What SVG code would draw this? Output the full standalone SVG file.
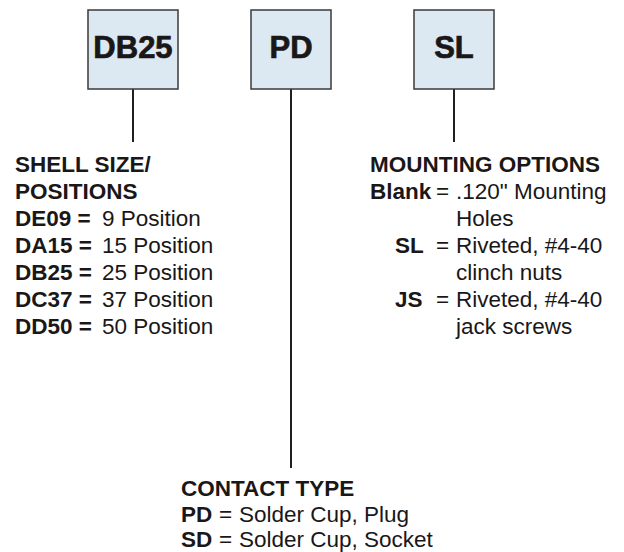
<svg xmlns="http://www.w3.org/2000/svg" width="624" height="552" viewBox="0 0 624 552">
<style>
text{font-family:"Liberation Sans",Arial,Helvetica,sans-serif;fill:#1a1718;font-size:22.5px}
.b{font-weight:700}
.box{fill:#dce9f3;stroke:#3a3a3a;stroke-width:1.5}
.lbl{font-size:31px;font-weight:700;text-anchor:middle;stroke:#1a1718;stroke-width:0.7}
.ln{stroke:#231f20;stroke-width:2;fill:none}
</style>
<rect width="624" height="552" fill="#ffffff"/>
<g id="connectors">
<line class="ln" x1="133" y1="89" x2="133" y2="142"/>
<line class="ln" x1="291" y1="89" x2="291" y2="468"/>
<line class="ln" x1="454" y1="89" x2="454" y2="142"/>
</g>
<g id="node-db25">
<rect class="box" x="88" y="10" width="90" height="79"/>
<text class="lbl" x="133" y="58" font-weight="700">DB25</text>
</g>
<g id="node-pd">
<rect class="box" x="251" y="10" width="80" height="79"/>
<text class="lbl" x="291" y="58" font-weight="700">PD</text>
</g>
<g id="node-sl">
<rect class="box" x="414" y="10" width="80" height="79"/>
<text class="lbl" x="454" y="58" font-weight="700">SL</text>
</g>
<g id="shell-size">
<text class="b" x="15" y="172">SHELL SIZE/</text>
<text class="b" x="15" y="199">POSITIONS</text>
<text x="15" y="226"><tspan class="b">DE09 =</tspan><tspan x="102">9 Position</tspan></text>
<text x="15" y="253"><tspan class="b">DA15 =</tspan><tspan x="102">15 Position</tspan></text>
<text x="15" y="280"><tspan class="b">DB25 =</tspan><tspan x="102">25 Position</tspan></text>
<text x="15" y="307"><tspan class="b">DC37 =</tspan><tspan x="102">37 Position</tspan></text>
<text x="15" y="334"><tspan class="b">DD50 =</tspan><tspan x="102">50 Position</tspan></text>
</g>
<g id="mounting-options">
<text class="b" x="370" y="172">MOUNTING OPTIONS</text>
<text x="370" y="199"><tspan class="b">Blank</tspan><tspan x="436">=</tspan><tspan x="456">.120" Mounting</tspan></text>
<text x="456" y="226">Holes</text>
<text x="395" y="253"><tspan class="b">SL</tspan><tspan x="436">=</tspan><tspan x="456">Riveted, #4-40</tspan></text>
<text x="456" y="280">clinch nuts</text>
<text x="395" y="307"><tspan class="b">JS</tspan><tspan x="436">=</tspan><tspan x="456">Riveted, #4-40</tspan></text>
<text x="456" y="334">jack screws</text>
</g>
<g id="contact-type">
<text class="b" x="181" y="496">CONTACT TYPE</text>
<text x="181" y="522"><tspan class="b">PD</tspan><tspan x="219">=</tspan><tspan x="239">Solder Cup, Plug</tspan></text>
<text x="181" y="547"><tspan class="b">SD</tspan><tspan x="219">=</tspan><tspan x="239">Solder Cup, Socket</tspan></text>
</g>
</svg>
